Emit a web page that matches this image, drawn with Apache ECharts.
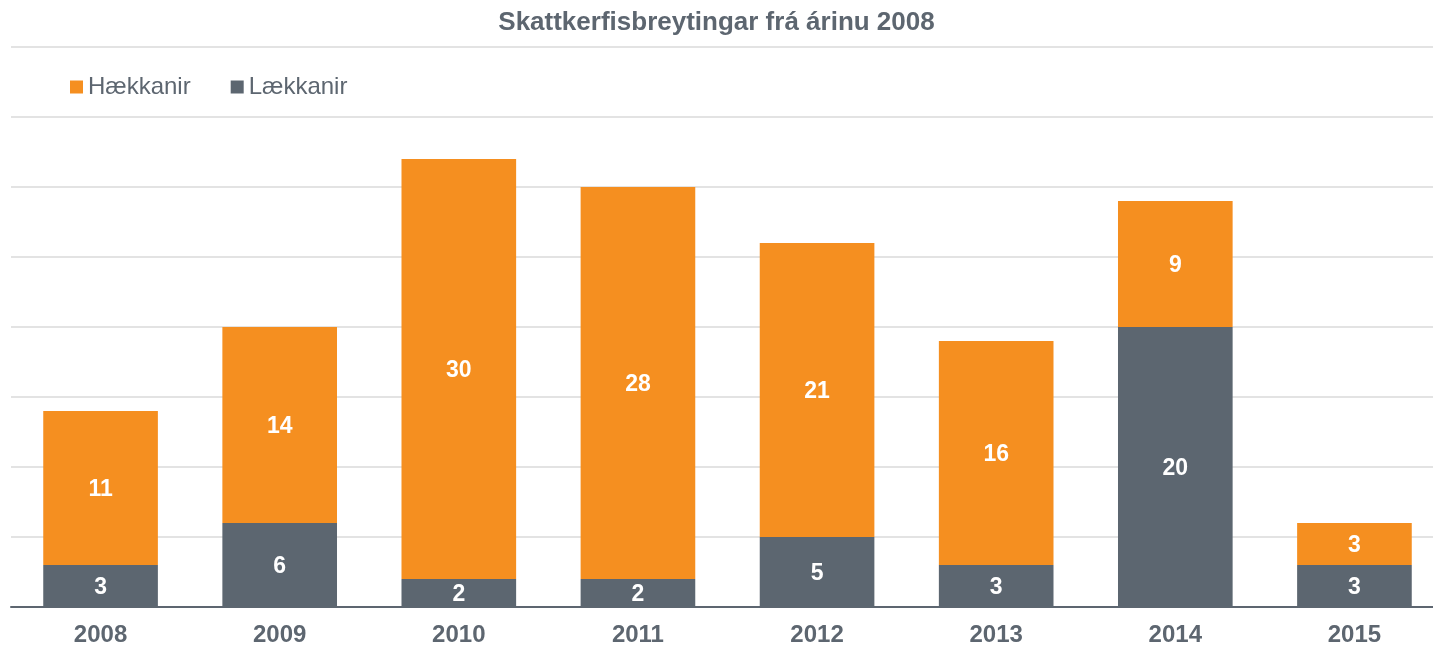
<!DOCTYPE html>
<html>
<head>
<meta charset="utf-8">
<script src="https://cdn.jsdelivr.net/npm/echarts@6/dist/echarts.min.js"></script>
<style>
  html, body { margin: 0; padding: 0; background: #fff; }
  #chart { width: 1433px; height: 646px; }
</style>
</head>
<body>
<div id="chart"></div>
<script>
const years = ['2008', '2009', '2010', '2011', '2012', '2013', '2014', '2015'];
const haekkanir = [11, 14, 30, 28, 21, 16, 9, 3];
const laekkanir = [3, 6, 2, 2, 5, 3, 20, 3];

const textGray = '#5d6670';
const font = '"Liberation Sans", Arial, sans-serif';

const chart = echarts.init(document.getElementById('chart'));

const labelStyle = {
  show: true,
  position: 'inside',
  color: '#fff',
  fontWeight: 'bold',
  fontSize: 23,
  fontFamily: font,
  offset: [0, 2]
};

chart.setOption({
  animation: false,
  title: {
    text: 'Skattkerfisbreytingar frá árinu 2008',
    left: 'center',
    top: 5,
    textStyle: { color: textGray, fontSize: 26, fontWeight: 'bold', fontFamily: font }
  },
  legend: {
    left: 65,
    top: 70,
    itemWidth: 13,
    itemHeight: 13,
    itemGap: 40,
    icon: 'rect',
    selectedMode: false,
    textStyle: { color: textGray, fontSize: 24, fontFamily: font },
    data: ['Hækkanir', 'Lækkanir']
  },
  grid: {
    left: 11, width: 1433, top: 47, bottom: 39,
    containLabel: false,
    outerBoundsMode: 'none'
  },
  xAxis: {
    type: 'category',
    data: years,
    axisLine: { lineStyle: { color: textGray, width: 2 } },
    axisTick: { show: false },
    axisLabel: { color: textGray, fontSize: 24, fontWeight: 'bold', fontFamily: font, margin: 16 }
  },
  yAxis: {
    type: 'value',
    min: 0,
    max: 40,
    interval: 5,
    axisLabel: { show: false },
    axisLine: { show: false },
    axisTick: { show: false },
    splitLine: { lineStyle: { color: '#e3e3e3', width: 2 } }
  },
  series: [
    {
      name: 'Lækkanir',
      type: 'bar',
      stack: 'total',
      barWidth: '64%',
      color: '#5c6670',
      label: labelStyle,
      data: laekkanir
    },
    {
      name: 'Hækkanir',
      type: 'bar',
      stack: 'total',
      barWidth: '64%',
      color: '#f58f20',
      label: labelStyle,
      data: haekkanir
    }
  ]
});
</script>
</body>
</html>
